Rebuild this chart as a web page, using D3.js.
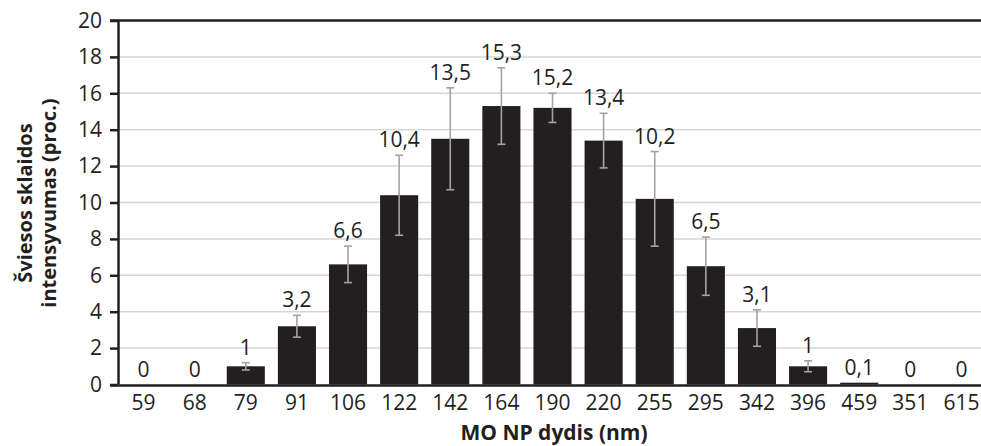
<!DOCTYPE html>
<html>
<head>
<meta charset="utf-8">
<script src="https://cdn.jsdelivr.net/npm/d3@7/dist/d3.min.js"></script>
<style>
  html, body { margin: 0; padding: 0; background: #fff; }
  svg { display: block; font-family: "Open Sans", sans-serif; }
</style>
</head>
<body>
<svg id="chart" width="981" height="446"></svg>
<script>
// Particle size classes (nm) and mean light scattering intensity (%)
const sizes = ["59", "68", "79", "91", "106", "122", "142", "164", "190", "220", "255", "295", "342", "396", "459", "351", "615"];
const intensity = [0, 0, 1, 3.2, 6.6, 10.4, 13.5, 15.3, 15.2, 13.4, 10.2, 6.5, 3.1, 1, 0.1, 0, 0];
const errors = [0, 0, 0.2, 0.6, 1.0, 2.2, 2.8, 2.1, 0.8, 1.5, 2.6, 1.6, 1.0, 0.3, 0, 0, 0];
const yTicks = [0, 2, 4, 6, 8, 10, 12, 14, 16, 18, 20];

const ink = "#231f20";
const svg = d3.select("#chart");

const plotLeft = 118, plotRight = 987, plotTop = 20.5, plotBottom = 384.5;

const x = d3.scaleBand().domain(sizes).range([plotLeft, plotRight]).paddingInner(0.255).paddingOuter(0.1275);
const y = d3.scaleLinear().domain([0, 20]).range([plotBottom, plotTop]);

const fmt = v => String(v).replace(".", ",");

// horizontal gridlines
svg.append("g")
  .selectAll("line")
  .data(yTicks.filter(t => t > 0 && t < 20))
  .join("line")
  .attr("x1", plotLeft).attr("x2", 981)
  .attr("y1", d => y(d)).attr("y2", d => y(d))
  .attr("stroke", "#d6d6d6").attr("stroke-width", 1.5);

// top border
svg.append("line")
  .attr("x1", plotLeft - 8).attr("x2", 981)
  .attr("y1", y(20)).attr("y2", y(20))
  .attr("stroke", ink).attr("stroke-width", 2.5);

// bars
const rows = sizes.map((s, i) => ({ s, v: intensity[i], e: errors[i] }));
svg.append("g")
  .selectAll("rect")
  .data(rows)
  .join("rect")
  .attr("x", d => x(d.s))
  .attr("width", x.bandwidth())
  .attr("y", d => y(d.v))
  .attr("height", d => y(0) - y(d.v))
  .attr("fill", ink);

// error bars
const eb = svg.append("g")
  .attr("stroke", "#a3a3a3").attr("stroke-width", 1.6)
  .selectAll("g")
  .data(rows.filter(d => d.e > 0))
  .join("g")
  .attr("transform", d => `translate(${x(d.s) + x.bandwidth() / 2},0)`);
eb.append("line").attr("y1", d => y(d.v + d.e)).attr("y2", d => y(d.v - d.e));
eb.append("line").attr("x1", -4).attr("x2", 4).attr("y1", d => y(d.v + d.e)).attr("y2", d => y(d.v + d.e));
eb.append("line").attr("x1", -4).attr("x2", 4).attr("y1", d => y(d.v - d.e)).attr("y2", d => y(d.v - d.e));

// value labels
svg.append("g")
  .selectAll("text")
  .data(rows)
  .join("text")
  .attr("x", d => x(d.s) + x.bandwidth() / 2)
  .attr("y", d => y(d.v + d.e) - 8)
  .attr("text-anchor", "middle")
  .attr("font-size", 21)
  .attr("fill", ink)
  .text(d => fmt(d.v));

// y axis
const yAxis = svg.append("g")
  .attr("transform", `translate(${plotLeft},0)`)
  .call(d3.axisLeft(y).tickValues(yTicks).tickSize(8).tickPadding(8).tickFormat(d3.format("d")));
yAxis.select(".domain").attr("stroke", ink).attr("stroke-width", 2.5).attr("d", `M0.5,${plotTop}V${plotBottom}`);
yAxis.selectAll(".tick line").attr("stroke", ink).attr("stroke-width", 2.5);
yAxis.selectAll(".tick text").attr("font-size", 21).attr("fill", ink).attr("font-family", "Open Sans, sans-serif");

// x axis
const xAxis = svg.append("g")
  .attr("transform", `translate(0,${plotBottom + 1})`)
  .call(d3.axisBottom(x).tickSize(0).tickPadding(10));
xAxis.select(".domain").attr("stroke", ink).attr("stroke-width", 2.5).attr("d", `M${plotLeft - 8},0H981`);
xAxis.selectAll(".tick text").attr("font-size", 21).attr("fill", ink).attr("font-family", "Open Sans, sans-serif");

// axis titles
svg.append("text")
  .attr("x", 554).attr("y", 440)
  .attr("text-anchor", "middle")
  .attr("font-size", 21).attr("font-weight", "bold").attr("fill", ink)
  .text("MO NP dydis (nm)");

const yt = svg.append("text")
  .attr("transform", "translate(0,203) rotate(-90)")
  .attr("text-anchor", "middle")
  .attr("font-size", 20).attr("font-weight", "bold").attr("fill", ink);
yt.append("tspan").attr("x", 0).attr("y", 32).text("Šviesos sklaidos");
yt.append("tspan").attr("x", 0).attr("y", 56).text("intensyvumas (proc.)");
</script>
</body>
</html>
